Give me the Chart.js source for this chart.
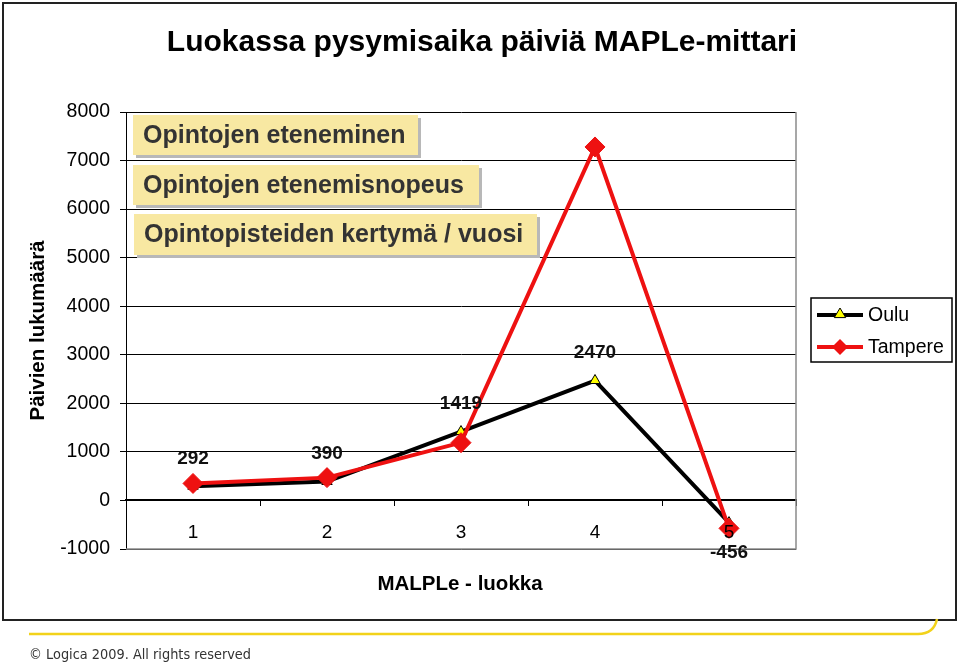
<!DOCTYPE html>
<html><head><meta charset="utf-8">
<script src="https://cdn.jsdelivr.net/npm/chart.js@4/dist/chart.umd.min.js"></script>
<style>html,body{margin:0;padding:0;background:#fff;overflow:hidden}canvas{display:block}</style>
</head><body>
<div style="width:959px;height:663px;position:relative"><canvas id="c" width="959" height="663"></canvas></div>
<script>
const categories = ['1', '2', '3', '4', '5'];
const ouluValues = [292, 390, 1419, 2470, -456];
const tampereValues = [350, 470, 1190, 7280, -575];
const seriesNames = ['Oulu', 'Tampere'];
const yMin = -1000, yMax = 8000, yStep = 1000;
const chartTitle = 'Luokassa pysymisaika päiviä MAPLe-mittari';
const yTitle = 'Päivien lukumäärä';
const xTitle = 'MALPLe - luokka';
const noteBoxes = ['Opintojen eteneminen', 'Opintojen etenemisnopeus', 'Opintopisteiden kertymä / vuosi'];
const footerText = '© Logica 2009. All rights reserved';

const FONT = '"Liberation Sans", Arial, sans-serif';

function drawTri(c, x, y, r, fill, stroke) {
  c.beginPath();
  c.moveTo(x, y - r);
  c.lineTo(x + r * 0.95, y + r * 0.6);
  c.lineTo(x - r * 0.95, y + r * 0.6);
  c.closePath();
  c.fillStyle = fill; c.fill();
  c.lineWidth = 1; c.strokeStyle = stroke; c.stroke();
}
function drawDiamond(c, x, y, r, fill) {
  c.beginPath();
  c.moveTo(x, y - r); c.lineTo(x + r, y); c.lineTo(x, y + r); c.lineTo(x - r, y);
  c.closePath(); c.fillStyle = fill; c.fill();
}

const deco = {
  id: 'deco',
  beforeDraw(chart) {
    const c = chart.ctx; c.save();
    c.fillStyle = '#fff'; c.fillRect(0, 0, chart.width, chart.height);
    c.restore();
  },
  beforeDatasetsDraw(chart) {
    const c = chart.ctx, a = chart.chartArea; c.save();
    c.strokeStyle = '#8a8a8a'; c.lineWidth = 1.5;
    c.beginPath();
    c.moveTo(a.right, a.top); c.lineTo(a.right, a.bottom); c.lineTo(a.left, a.bottom);
    c.stroke();
    // note boxes
    const boxes = [[133, 115, 285, 40], [133, 165, 346, 40], [134, 214, 403, 41]];
    c.font = 'bold 25px ' + FONT;
    c.textBaseline = 'middle';
    boxes.forEach((b, i) => {
      c.fillStyle = '#b8b8b8';
      c.fillRect(b[0] + 3, b[1] + 3, b[2], b[3]);
      c.fillStyle = '#f8e8a2';
      c.fillRect(b[0], b[1], b[2], b[3]);
      c.fillStyle = '#333';
      c.fillText(noteBoxes[i], b[0] + 10, b[1] + b[3] / 2 + 1, b[2] - 14);
    });
    c.restore();
  },
  afterDatasetsDraw(chart) {
    const c = chart.ctx; c.save();
    const meta = chart.getDatasetMeta(0);
    c.font = 'bold 19px ' + FONT;
    c.fillStyle = '#111'; c.textAlign = 'center'; c.textBaseline = 'middle';
    meta.data.forEach((p, i) => {
      const v = ouluValues[i];
      const y = v >= 0 ? p.y - 28 : p.y + 30;
      c.fillText(String(v), p.x, y);
    });
    c.restore();
  },
  afterDraw(chart) {
    const c = chart.ctx; c.save();
    // outer frame
    c.strokeStyle = '#222'; c.lineWidth = 2;
    c.strokeRect(3, 3, 953, 617);
    // title
    c.fillStyle = '#000'; c.textAlign = 'center'; c.textBaseline = 'alphabetic';
    c.font = 'bold 30px "Liberation Sans Narrow", ' + FONT;
    c.fillText(chartTitle, 482, 51, 640);
    // x title
    c.font = 'bold 20.5px ' + FONT; c.textBaseline = 'middle';
    c.fillText(xTitle, 460, 584);
    // legend
    c.fillStyle = '#fff';
    c.fillRect(811, 298, 141, 64);
    c.strokeStyle = '#000'; c.lineWidth = 1.5;
    c.strokeRect(811, 298, 141, 64);
    c.lineWidth = 4; c.strokeStyle = '#000';
    c.beginPath(); c.moveTo(817, 315); c.lineTo(863, 315); c.stroke();
    drawTri(c, 840, 314, 6, '#ffff00', '#000');
    c.lineWidth = 4; c.strokeStyle = '#ee1111';
    c.beginPath(); c.moveTo(817, 347); c.lineTo(863, 347); c.stroke();
    drawDiamond(c, 840, 347, 8, '#ee1111');
    c.fillStyle = '#000'; c.textAlign = 'left'; c.font = '19.5px ' + FONT;
    c.fillText(seriesNames[0], 868, 316);
    c.fillText(seriesNames[1], 868, 348);
    // footer
    c.strokeStyle = '#f2d21a'; c.lineWidth = 2.5;
    c.beginPath(); c.moveTo(29, 634); c.lineTo(918, 634);
    c.quadraticCurveTo(934, 634, 937, 619); c.stroke();
    c.fillStyle = '#333'; c.font = '14px "DejaVu Sans", sans-serif'; c.textBaseline = 'middle';
    c.fillText(footerText, 29, 655, 222);
    c.restore();
  }
};

new Chart(document.getElementById('c'), {
  type: 'line',
  data: {
    labels: categories,
    datasets: [
      {
        label: seriesNames[0], data: ouluValues, order: 1,
        borderColor: '#000', borderWidth: 4, tension: 0,
        pointStyle: 'triangle', pointRadius: 6, pointBackgroundColor: '#ffff00',
        pointBorderColor: '#000', pointBorderWidth: 1
      },
      {
        label: seriesNames[1], data: tampereValues, order: 0,
        borderColor: '#ee1111', borderWidth: 4, tension: 0,
        pointStyle: 'rectRot', pointRadius: 10, pointBackgroundColor: '#ee1111',
        pointBorderColor: '#ee1111', pointBorderWidth: 1
      }
    ]
  },
  options: {
    responsive: false, animation: false,
    layout: { padding: { left: 26, top: 112, right: 163, bottom: 114 } },
    plugins: { legend: { display: false }, tooltip: { enabled: false }, title: { display: false } },
    scales: {
      x: {
        type: 'category', offset: true, position: { y: 0 },
        grid: { drawOnChartArea: false, drawTicks: true, tickLength: 5, color: '#000', offset: true },
        border: { color: '#000', width: 2 },
        ticks: { color: '#000', font: { size: 19, family: FONT }, padding: 16, z: 1 }
      },
      y: {
        min: yMin, max: yMax,
        ticks: { stepSize: yStep, color: '#000', font: { size: 19.5, family: FONT }, padding: 10,
                 callback: v => String(v) },
        grid: { color: '#000', lineWidth: 1, tickLength: 6, drawTicks: true },
        border: { color: '#000', width: 1 },
        title: { display: true, text: yTitle, color: '#000', font: { size: 20.5, weight: 'bold', family: FONT }, padding: 0 },
        afterFit: s => { s.width = 100; }
      }
    }
  },
  plugins: [deco]
});
</script>
</body></html>
